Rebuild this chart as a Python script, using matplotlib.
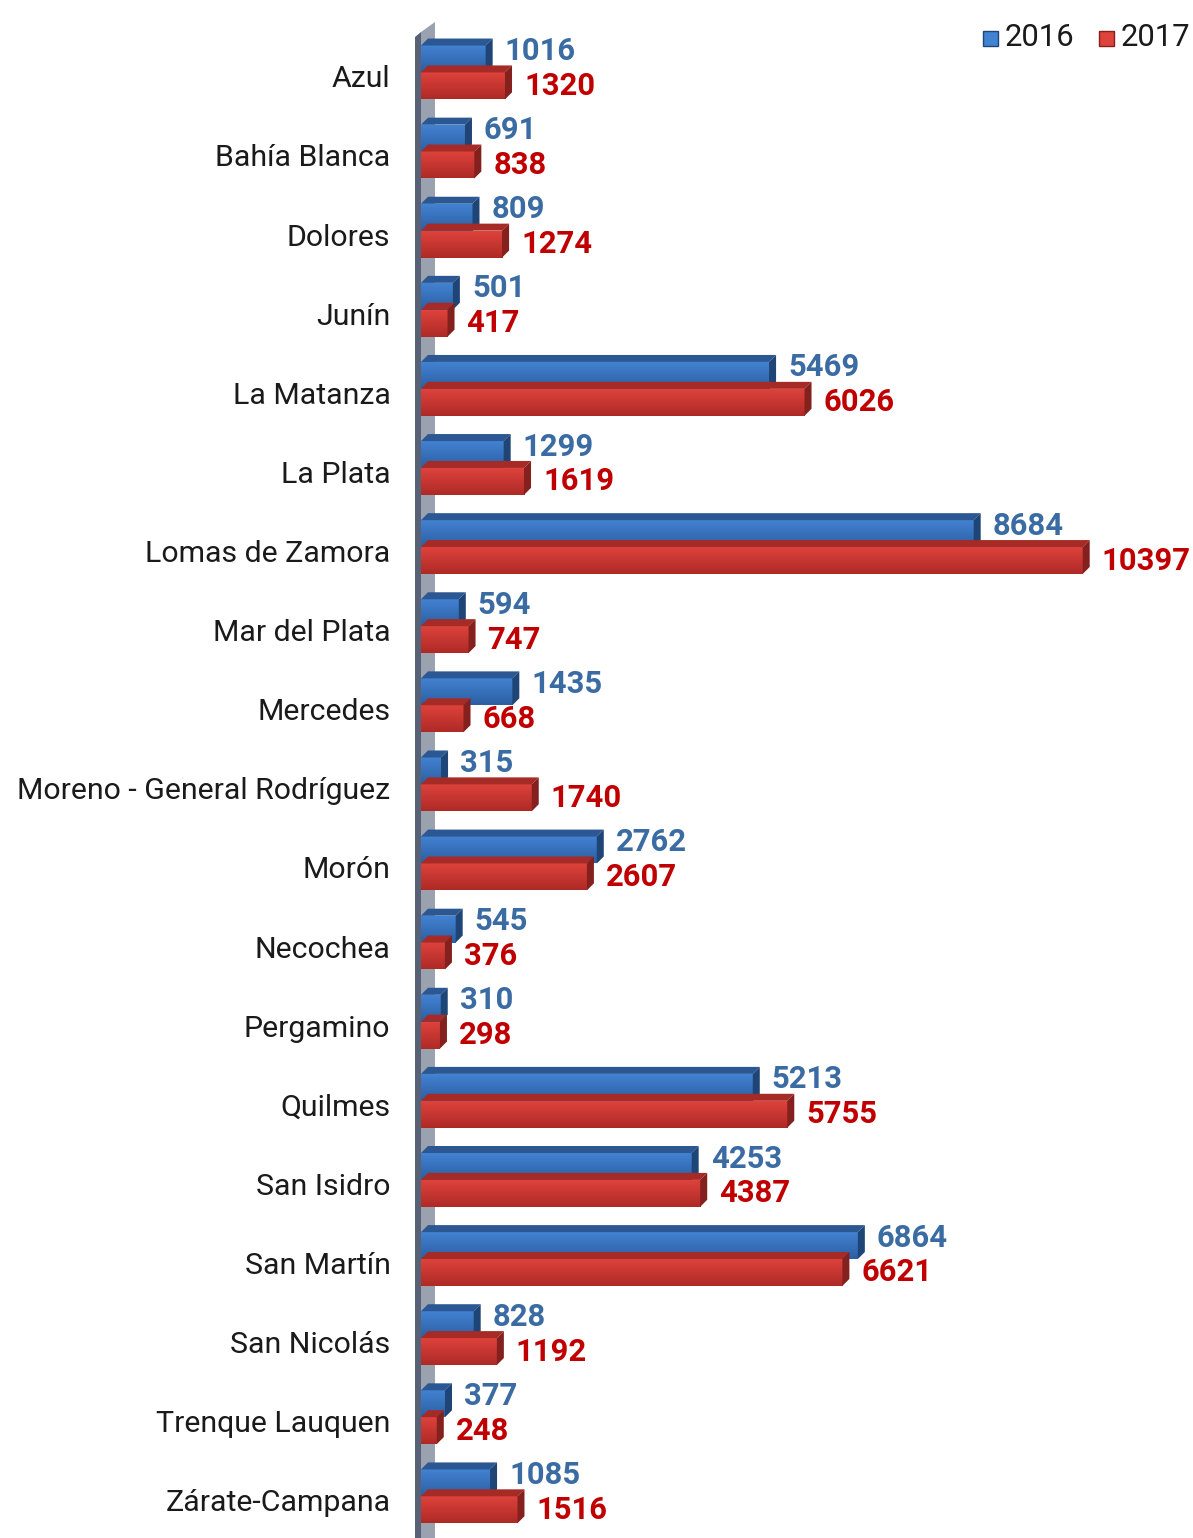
import numpy as np
import matplotlib.pyplot as plt
from matplotlib.patches import Polygon
from matplotlib.colors import LinearSegmentedColormap

plt.rcParams['font.family'] = ['Roboto', 'DejaVu Sans']

categories = ['Azul', 'Bahía Blanca', 'Dolores', 'Junín', 'La Matanza', 'La Plata',
              'Lomas de Zamora', 'Mar del Plata', 'Mercedes', 'Moreno - General Rodríguez',
              'Morón', 'Necochea', 'Pergamino', 'Quilmes', 'San Isidro', 'San Martín',
              'San Nicolás', 'Trenque Lauquen', 'Zárate-Campana']
v2016 = [1016, 691, 809, 501, 5469, 1299, 8684, 594, 1435, 315,
         2762, 545, 310, 5213, 4253, 6864, 828, 377, 1085]
v2017 = [1320, 838, 1274, 417, 6026, 1619, 10397, 747, 668, 1740,
         2607, 376, 298, 5755, 4387, 6621, 1192, 248, 1516]

W, H = 1193, 1538
fig = plt.figure(figsize=(W / 100, H / 100), dpi=100)

# axes placement (pixels)
x0 = 421
top, bot = 30.5, 1533.5
ax = fig.add_axes([x0 / W, (H - bot) / H, (W - x0) / W, (bot - top) / H])
ax.set_zorder(2)
xmax = 12130
n = len(categories)

def fx(px):
    return px / W

def fy(py):
    return 1 - py / H

# wall behind the bars
wall_back = Polygon([(fx(421), fy(H)), (fx(421), fy(32)), (fx(435), fy(22)),
                     (fx(435), fy(H))], closed=True, transform=fig.transFigure,
                    facecolor='#9aa2b0', edgecolor='none', zorder=0)
wall_front = Polygon([(fx(415), fy(H)), (fx(415), fy(37)), (fx(421), fy(32)),
                      (fx(421), fy(H))], closed=True, transform=fig.transFigure,
                     facecolor='#586276', edgecolor='none', zorder=0)
fig.patches.extend([wall_back, wall_front])

# 3d depth in data units
px_per_unit = (W - x0) / xmax
px_per_row = (bot - top) / n
dx = 7 / px_per_unit
dy = 7 / px_per_row
h = 0.34

styles = {
    '2016': dict(light='#4282d2', dark='#2c5fa3', topc='#2b5793', side='#1f4577'),
    '2017': dict(light='#de433c', dark='#ae2926', topc='#a62a26', side='#84201d'),
}

def bar3d(y0, val, st):
    y1 = y0 + h
    grad = np.linspace(0, 1, 50).reshape(-1, 1)
    cmap = LinearSegmentedColormap.from_list('g', [st['light'], st['dark']])
    ax.imshow(grad, aspect='auto', cmap=cmap, extent=(0, val, y1, y0),
              zorder=3, interpolation='bilinear')
    # top face
    ax.add_patch(Polygon([(0, y0), (dx, y0 - dy), (val + dx, y0 - dy), (val, y0)],
                         closed=True, facecolor=st['topc'], edgecolor='none', zorder=3))
    # right side face
    ax.add_patch(Polygon([(val, y0), (val + dx, y0 - dy), (val + dx, y1 - dy), (val, y1)],
                         closed=True, facecolor=st['side'], edgecolor='none', zorder=3))

pad = 12 / px_per_unit
for i in range(n):
    b = i - h + 0.03
    r = i + 0.03
    bar3d(b, v2016[i], styles['2016'])
    bar3d(r, v2017[i], styles['2017'])
    ax.text(v2016[i] + dx + pad, b + h / 2 - 0.1, str(v2016[i]), color='#3a6ba3',
            fontsize=22.3, fontweight='bold', va='center', ha='left', zorder=5)
    ax.text(v2017[i] + dx + pad, r + h / 2, str(v2017[i]), color='#c00000',
            fontsize=22.3, fontweight='bold', va='center', ha='left', zorder=5)

ax.set_xlim(0, xmax)
ax.set_ylim(n - 0.5, -0.5)
ax.set_yticks(np.arange(n) + 0.08)
ax.set_yticklabels(categories, fontsize=21.8, color='#1a1a1a')
ax.tick_params(axis='y', length=0, pad=22)
ax.set_xticks([])
for s in ax.spines.values():
    s.set_visible(False)
ax.set_facecolor('none')

# legend
for lx, lab, st in [(983, '2016', styles['2016']), (1099, '2017', styles['2017'])]:
    fig.patches.append(Polygon([(fx(lx), fy(46)), (fx(lx), fy(31)), (fx(lx + 15), fy(31)),
                                (fx(lx + 15), fy(46))], closed=True,
                               transform=fig.transFigure, facecolor=st['light'],
                               edgecolor=st['side'], linewidth=1))
    fig.text(fx(lx + 22), fy(37), lab, fontsize=22.3, color='#1a1a1a',
             va='center', ha='left')

fig.savefig('out.png', dpi=100)
